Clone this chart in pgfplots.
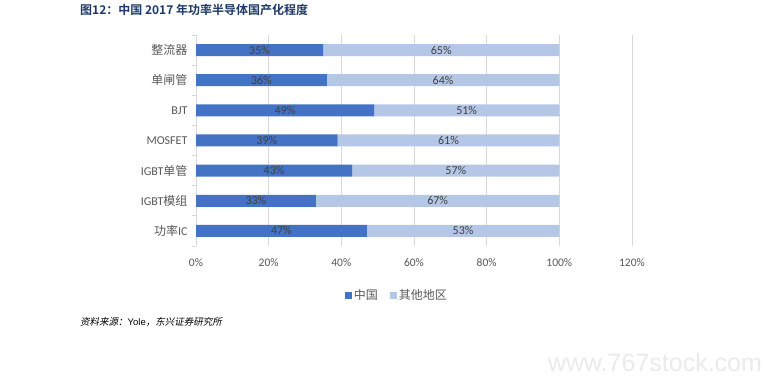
\documentclass[border=0pt]{standalone}
\usepackage{fontspec}
\setmainfont{Carlito}
\newfontfamily\cjk{Noto Sans CJK SC}
\newfontfamily\cjkb{Noto Sans CJK SC Bold}
\newfontfamily\cjksl[FakeSlant=0.2]{Noto Sans CJK SC}
\newfontfamily\arialf{Liberation Sans}
\usepackage{pgfplots}
\usepackage{pgfplotstable}
\pgfplotsset{compat=1.18}
\pgfkeys{/pgf/number format/assume math mode=true}
\definecolor{cn}{HTML}{4472C4}
\definecolor{ot}{HTML}{B4C7E7}
\definecolor{txt}{HTML}{595959}
\definecolor{lbl}{HTML}{404040}
\definecolor{ttl}{HTML}{1F3A68}
\definecolor{grd}{HTML}{D9D9D9}
\pgfplotstableread{
idx cn ot
0 35 65
1 36 64
2 49 51
3 39 61
4 43 57
5 33 67
6 47 53
}\data
\begin{document}
\begin{tikzpicture}[x=1pt,y=1pt]
\path[use as bounding box, fill=white] (0,0) rectangle (774,385);
\pgfplotsset{base/.style={
  at={(196pt,139pt)}, anchor=south west, scale only axis,
  width=436pt, height=211pt,
  xmin=0, xmax=120, ymin=-0.5, ymax=6.5, y dir=reverse,
}}
\begin{axis}[base, xbar stacked, bar width=12pt,
  axis line style={draw=none},
  xtick={0,20,...,120},
  xmajorgrids, major grid style={grd, line width=0.8pt},
  major tick length=0pt,
  xticklabel={\pgfmathprintnumber{\tick}\%},
  /pgf/number format/assume math mode=true,
  xticklabel style={font=\fontsize{11.5}{12}\selectfont, text=txt, yshift=-9pt},
  ytick={0,...,6},
  yticklabels={{\cjk 整流器},{\cjk 单闸管},BJT,MOSFET,IGBT{\cjk 单管},IGBT{\cjk 模组},{\cjk 功率}IC},
  yticklabel style={font=\fontsize{12}{12}\selectfont, text=txt, xshift=-5pt},
  minor ytick={-0.5,0.5,...,6.5},
  minor tick length=4pt, tick align=outside, ytick pos=left, xtick pos=bottom,
  minor y tick style={grd, line width=0.8pt},
  legend style={draw=none, at={(0.461,-0.235)}, anchor=center, legend columns=2,
    font=\cjk\fontsize{12}{12}\selectfont, text=txt,
    /tikz/every even column/.append style={column sep=10pt}},
  legend image code/.code={\fill[#1] (0pt,-3.5pt) rectangle (7pt,3.5pt);},
]
\addplot[fill=cn, draw=none] table[x=cn, y=idx] {\data};
\addplot[fill=ot, draw=none] table[x=ot, y=idx] {\data};
\legend{中国,其他地区}
\end{axis}
\begin{axis}[base, hide axis,
  every node near coord/.style={anchor=center, font=\fontsize{12}{12}\selectfont, text=lbl},
  nodes near coords={\pgfmathprintnumber[assume math mode=true]{\pgfplotspointmeta}\%},
  point meta=explicit]
\addplot[draw=none, mark=none] table[x expr=\thisrow{cn}/2, y=idx, meta=cn] {\data};
\addplot[draw=none, mark=none] table[x expr=\thisrow{cn}+\thisrow{ot}/2, y=idx, meta=ot] {\data};
\end{axis}
\node[anchor=west, text=ttl, font=\cjkb\fontsize{12}{12}\selectfont, inner sep=0] at (80,375) {图12：中国 2017 年功率半导体国产化程度};
\node[anchor=west, text=black, font=\fontsize{9.5}{10}\selectfont, inner sep=0] at (80,63) {{\cjksl 资料来源：}{\arialf Yole}{\cjksl ，东兴证券研究所}};
\node[anchor=center, text=black!8, font=\arialf\fontsize{25}{25}\selectfont, inner sep=0] at (655,22) {www.767stock.com};
\end{tikzpicture}
\end{document}
